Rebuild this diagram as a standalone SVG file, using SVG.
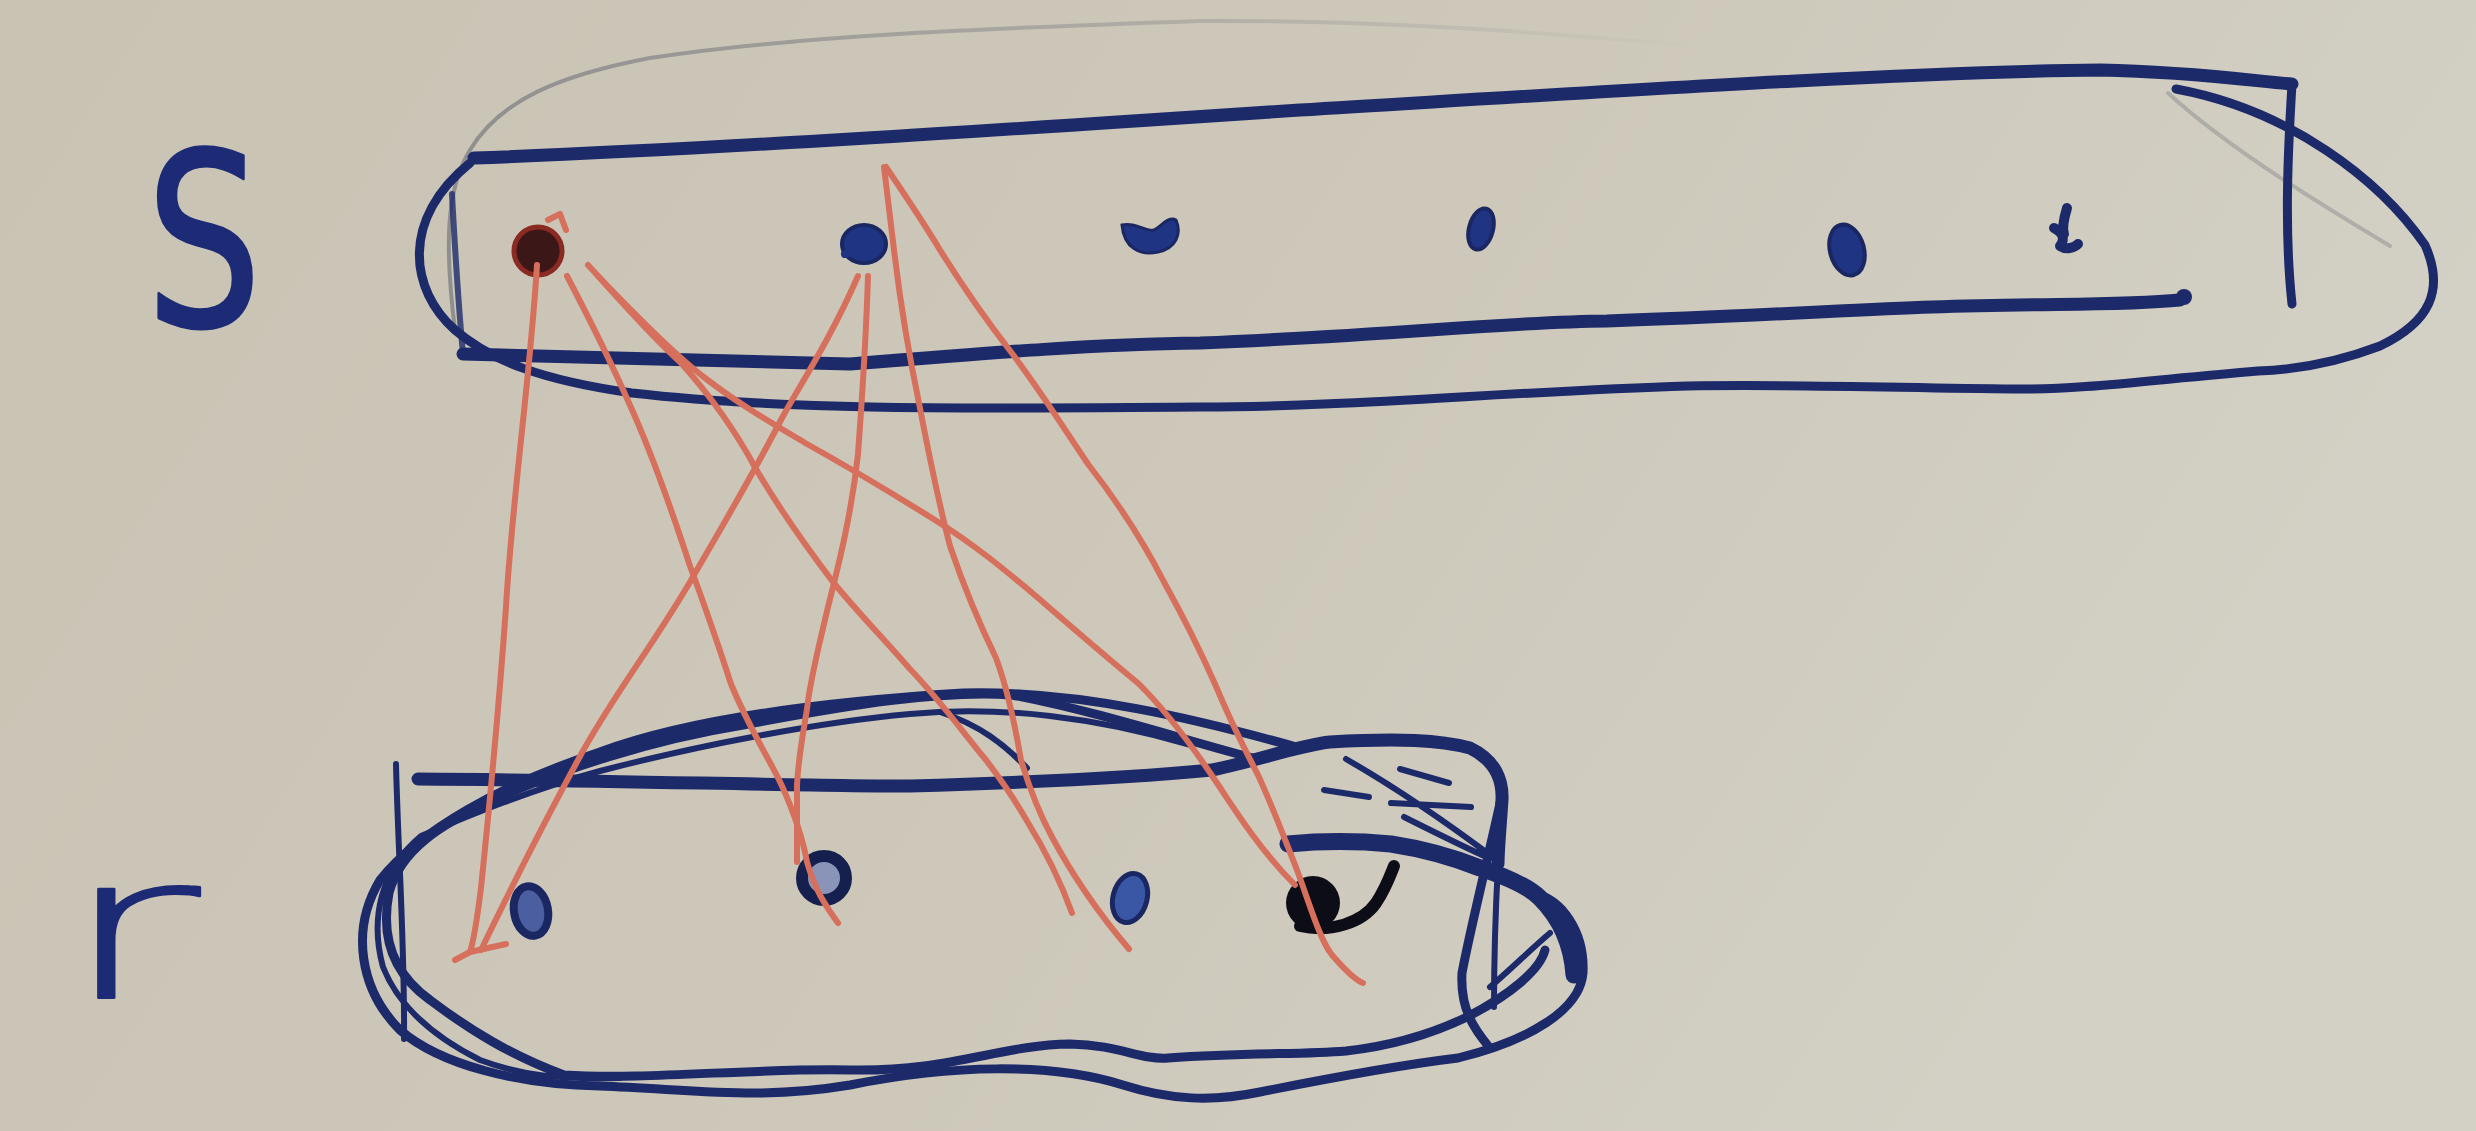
<svg xmlns="http://www.w3.org/2000/svg" width="2476" height="1131" viewBox="0 0 2476 1131">
<defs>
<linearGradient id="paper" x1="0" y1="0" x2="1" y2="0.3">
<stop offset="0" stop-color="#c9c3b4"/>
<stop offset="0.6" stop-color="#cdc8ba"/>
<stop offset="1" stop-color="#d3d0c5"/>
</linearGradient>
<linearGradient id="fade" gradientUnits="userSpaceOnUse" x1="450" y1="0" x2="1700" y2="0">
<stop offset="0" stop-color="#5f636e" stop-opacity="0.55"/>
<stop offset="0.5" stop-color="#5f636e" stop-opacity="0.3"/>
<stop offset="1" stop-color="#5f636e" stop-opacity="0"/>
</linearGradient>
<style>
.ink{fill:none;stroke:#1d2a6a;stroke-linecap:round;stroke-linejoin:round}
.thick{stroke-width:13}
.mid{stroke-width:9}
.thin{stroke-width:6}
.faint{fill:none;stroke-width:4;stroke-linecap:round}
.red{fill:none;stroke:#d66f5c;stroke-width:6;stroke-linecap:round;stroke-linejoin:round}
.dot{fill:#1f3584;stroke:#1a2762;stroke-width:4}
.lbl{font-family:"DejaVu Sans","Liberation Sans",sans-serif;fill:#1d2a75;stroke:#1d2a75;stroke-linejoin:round}
</style>
</defs>
<rect width="2476" height="1131" fill="url(#paper)"/>

<g id="label-S"><text class="lbl" x="0" y="0" font-size="240" stroke-width="3" transform="translate(146,326) scale(0.76,1)">S</text></g>
<g id="label-r"><text class="lbl" x="0" y="0" font-size="200" font-weight="200" stroke-width="2" transform="translate(60,998) scale(1.7,1)">r</text></g>

<g id="set-S">
<path class="faint" stroke="url(#fade)" d="M455,330 C445,250 445,190 470,150 C500,100 560,75 650,58 C800,35 1000,28 1200,21 C1350,20 1480,28 1600,38 C1650,42 1680,44 1700,46"/>
<path class="faint" stroke="#5f636e" stroke-opacity="0.3" d="M2168,93 C2230,150 2330,210 2390,246"/>
<path class="ink thick" d="M474,158 C700,150 1000,130 1300,110 C1600,92 1900,72 2100,70 C2200,72 2260,82 2292,84"/>
<path class="ink mid" d="M2292,84 C2288,150 2284,230 2292,304"/>
<path class="ink thick" d="M463,354 C560,356 700,360 850,364 C1000,352 1100,344 1200,343 C1400,335 1500,322 1607,321 C1750,316 1850,310 1932,307 C2050,303 2120,306 2180,300"/>
<circle cx="2184" cy="297" r="8" fill="#1d2a6a"/>
<path class="ink thin" stroke-opacity="0.8" d="M452,194 C455,250 458,300 463,354"/>
<path class="ink mid" d="M2176,89 C2290,110 2380,180 2425,245 C2445,290 2430,322 2380,346 C2330,365 2290,370 2258,371 C2150,380 2080,390 2014,389 C1900,388 1800,384 1688,386 C1500,392 1350,407 1200,407 C1000,408 800,412 632,393 C540,380 490,360 455,330 C410,290 400,220 470,163"/>
</g>

<g id="node-s1"><circle cx="538" cy="251" r="24" fill="#3b1718" stroke="#8a2a22" stroke-width="5"/></g>
<g id="node-s2"><ellipse class="dot" cx="864" cy="244" rx="22" ry="19"/><path d="M845,254 L862,250" stroke="#1f3584" stroke-width="8" stroke-linecap="round"/></g>
<g id="node-s3"><path d="M1122,225 C1124,248 1140,256 1158,252 C1176,248 1182,234 1176,220 C1168,216 1162,226 1154,230 C1146,232 1136,222 1122,225 Z" fill="#1f3584" stroke="#1a2762" stroke-width="3"/></g>
<g id="node-s4"><ellipse class="dot" cx="1481" cy="229" rx="12" ry="21" transform="rotate(15 1481 229)"/></g>
<g id="node-s5"><ellipse class="dot" cx="1847" cy="250" rx="17" ry="26" transform="rotate(-15 1847 250)"/></g>
<g id="node-s6"><path class="ink" stroke-width="10" d="M2067,208 C2064,218 2062,228 2064,234 M2054,228 C2062,232 2066,238 2060,246 C2066,250 2074,248 2078,244"/></g>

<g id="set-r">
<path class="ink thick" d="M418,779 C600,780 800,786 910,786 C1050,782 1150,776 1212,770 C1260,760 1300,745 1330,742 C1400,738 1440,740 1470,748 C1495,760 1503,780 1502,800 C1500,830 1498,850 1498,864"/>
<path class="ink mid" d="M1300,748 C1200,720 1080,690 963,693 C850,700 700,715 600,752 C500,785 420,830 380,880 C350,930 360,990 400,1030 C440,1065 520,1085 600,1086 C700,1090 760,1100 850,1085 C950,1065 1050,1062 1123,1085 C1170,1100 1212,1102 1260,1092 C1320,1080 1400,1065 1458,1058 C1530,1040 1580,1010 1583,973 C1585,930 1560,900 1538,895"/>
<path class="ink mid" d="M1257,759 C1190,742 1101,712 1012,695 C940,690 850,705 743,725 C650,740 560,770 493,800 C440,825 400,850 389,893 C380,940 395,975 430,1000 C470,1030 510,1055 564,1075 C650,1080 750,1068 850,1070 C950,1072 1000,1045 1070,1044 C1120,1045 1140,1060 1168,1058 C1250,1052 1300,1055 1346,1051 C1400,1045 1440,1030 1467,1017 C1510,995 1540,970 1545,950"/>
<path class="ink thin" d="M1190,745 C1100,718 1000,705 910,714 C820,722 700,745 600,771 C530,790 470,815 421,836 C380,870 370,920 383,967 C400,1010 440,1040 480,1060 C520,1075 560,1080 620,1078"/>
<path class="ink thin" d="M940,712 C980,725 1005,745 1027,768"/>
<path class="ink thin" d="M396,764 C398,850 405,950 404,1039"/>
<path class="ink mid" d="M1503,790 C1490,850 1470,930 1462,973 C1460,1010 1475,1030 1489,1047"/>
<path class="ink thin" d="M1498,864 C1495,920 1494,970 1494,1007"/>
<path class="ink thin" d="M1550,933 C1530,950 1510,970 1490,987"/>
<path class="ink" stroke-width="17" d="M1288,844 C1330,840 1370,842 1391,844 C1430,850 1460,860 1480,868 C1510,878 1530,888 1540,898 C1562,920 1572,945 1574,975"/>
<path class="ink thin" d="M1324,790 L1369,797 M1391,803 L1471,807 M1400,769 L1449,783 M1346,759 C1400,790 1450,825 1494,858 M1404,817 C1440,835 1470,850 1489,858"/>
</g>

<g id="node-r1"><ellipse cx="531" cy="911" rx="17" ry="25" fill="#4a5ea0" stroke="#1a2762" stroke-width="8" transform="rotate(-10 531 911)"/></g>
<g id="node-r2"><ellipse cx="824" cy="878" rx="22" ry="22" fill="#8a93b8" stroke="#15204f" stroke-width="12"/></g>
<g id="node-r3"><ellipse cx="1130" cy="898" rx="17" ry="25" fill="#3a57a6" stroke="#1a2762" stroke-width="5" transform="rotate(15 1130 898)"/></g>
<g id="node-r4"><circle cx="1313" cy="903" r="27" fill="#0d0d18"/><path d="M1300,926 C1330,933 1362,923 1376,903 C1386,888 1390,876 1394,866" fill="none" stroke="#0d0d18" stroke-width="12" stroke-linecap="round"/></g>

<g id="connectors">
<path class="red" d="M537,265 C530,380 512,500 506,607 C498,720 488,820 481,888 C477,920 474,940 470,952"/>
<path class="red" d="M455,960 L470,952 L506,944"/>
<path class="red" d="M858,276 C830,340 800,385 782,418 C750,480 720,530 690,582 C650,650 610,700 578,760 C540,830 510,890 481,950"/>
<path class="red" d="M567,276 C590,320 610,360 629,403 C655,460 675,520 690,566 C710,620 720,650 731,684 C750,730 770,760 782,786 C795,815 803,840 807,862 C815,890 825,905 838,923"/>
<path class="red" d="M868,276 C866,340 862,400 858,454 C852,510 840,560 828,607 C818,650 810,680 807,709 C802,740 798,760 797,786 C797,810 797,840 797,862"/>
<path class="red" d="M588,265 C620,300 650,335 680,362 C710,395 735,430 756,469 C780,510 805,545 833,582 C860,615 885,640 909,668 C940,700 965,735 986,760 C1005,785 1015,800 1027,821 C1045,850 1060,880 1072,913"/>
<path class="red" d="M884,167 C888,200 891,225 894,250 C900,300 910,360 919,403 C928,450 938,500 950,546 C965,590 980,625 996,658 C1008,690 1015,725 1021,760 C1030,790 1040,815 1052,837 C1075,880 1100,915 1129,949"/>
<path class="red" d="M598,276 C640,320 675,355 705,378 C740,405 775,425 807,444 C850,468 895,495 935,520 C975,545 1005,570 1037,597 C1075,630 1110,660 1139,684 C1165,710 1195,750 1217,783 C1235,810 1260,850 1295,885"/>
<path class="red" d="M886,167 C905,195 925,225 940,250 C965,290 990,325 1011,352 C1040,390 1065,430 1088,464 C1120,505 1145,545 1164,582 C1185,620 1200,650 1215,684 C1230,720 1245,750 1258,775 C1272,805 1285,840 1297,870 C1310,905 1320,940 1332,955 C1345,970 1355,980 1363,983"/>
<path class="red" d="M548,220 L560,214 L566,230"/>
</g>
</svg>
